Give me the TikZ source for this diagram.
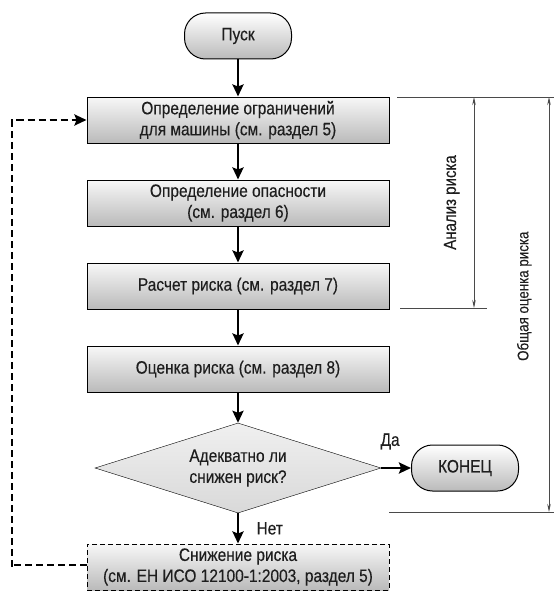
\documentclass[tikz,border=0pt]{standalone}
\usepackage{fontspec}
\setmainfont{Liberation Sans}[FakeStretch=0.86, FakeBold=0.3]
\usepackage{tikz}
\usetikzlibrary{arrows.meta, positioning, calc, shapes.geometric}
\definecolor{inkgray}{HTML}{1E1E1E}
\definecolor{dimgray}{HTML}{4A4A4A}

\begin{document}
\begin{tikzpicture}[x=1pt, y=-1pt,
      every node/.style={font=\fontsize{18}{21}\selectfont, text=inkgray},
      term/.style={draw, line width=1pt, rounded corners=21pt, minimum width=107pt,
                   minimum height=46pt, top color=white, bottom color=black!27},
      stepbox/.style={draw, line width=1pt, minimum width=302pt, minimum height=46pt,
                      align=center, top color=black!3, bottom color=black!27},
      decide/.style={draw, diamond, aspect=3.18, inner sep=0pt, align=center,
                     minimum width=286pt, minimum height=90pt,
                     top color=black!6, bottom color=black!15},
      arr/.style={-{Stealth[length=12pt, width=11pt, inset=2pt]}, line width=2.4pt},
      dimline/.style={dimgray, line width=0.8pt},
      dimarr/.style={{Stealth[length=8pt, width=3.5pt]}-{Stealth[length=8pt, width=3.5pt]}, dimline},
      side/.style={rotate=90, anchor=south}
    ]
      \useasboundingbox (0, 0) rectangle (554, 594);

      \node[term] (start) at (238, 36) {Пуск};
      \node[stepbox] (lim) at (238, 120) {Определение ограничений\\для машины (см. раздел 5)};
      \node[stepbox] (haz) at (238, 203) {Определение опасности\\(см. раздел 6)};
      \node[stepbox] (est) at (238, 286) {Расчет риска (см. раздел 7)};
      \node[stepbox] (eval) at (238, 369) {Оценка риска (см. раздел 8)};
      \node[decide] (ok) at (238, 468) {Адекватно ли\\снижен риск?};
      \node[term] (fin) at (465, 468) {КОНЕЦ};
      \node[stepbox, dash pattern=on 5pt off 3pt] (red) at (238, 567)
        {Снижение риска\\(см. ЕН ИСО 12100-1:2003, раздел 5)};

      \draw[arr] (start) -- (lim);
      \draw[arr] (lim) -- (haz);
      \draw[arr] (haz) -- (est);
      \draw[arr] (est) -- (eval);
      \draw[arr] (eval) -- (ok);
      \draw[arr] (ok.east) -- node[above=14pt, xshift=-6pt] {Да} (fin);
      \draw[arr] (ok.south) -- node[right=14pt] {Нет} (red);

      \coordinate (back) at (12, 0);
      \draw[arr, dash pattern=on 7pt off 4pt] (red.west |- 0, 565) -| (back |- red)
        |- (lim.west);

      % bracket lines on the right
      \draw[dimline] (397, 97) -- (554, 97);
      \draw[dimline] (400, 308) -- (487, 308);
      \draw[dimline] (389, 512) -- (554, 512);
      \draw[dimarr] (474, 97) -- node[side, inner sep=14pt, font=\fontsize{17.5}{20}\selectfont]
        {Анализ риска} (474, 308);
      \draw[dimarr] (549, 97) -- node[side, pos=0.48, inner sep=17pt, font=\fontsize{15.5}{18}\selectfont]
        {Общая оценка риска} (549, 512);
    \end{tikzpicture}
\end{document}
